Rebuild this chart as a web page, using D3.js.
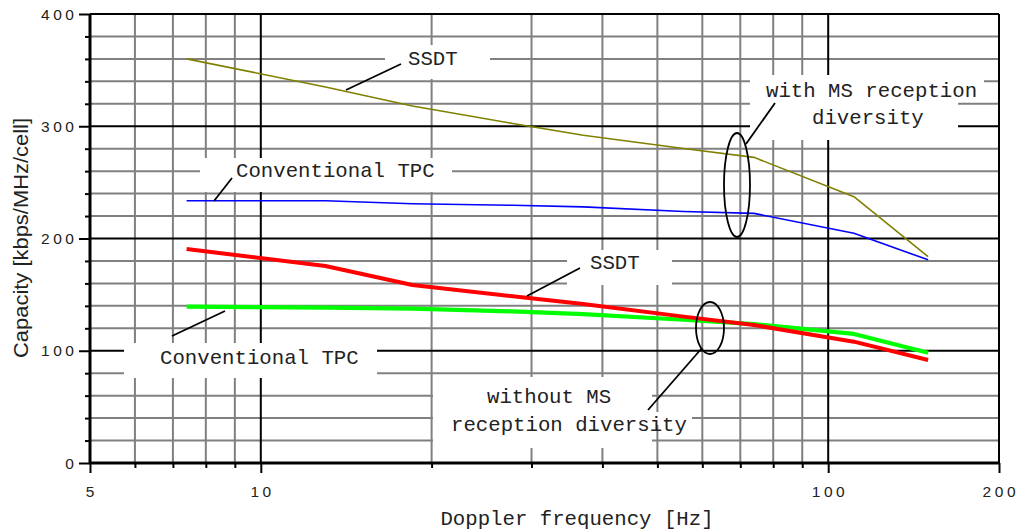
<!DOCTYPE html>
<html>
<head>
<meta charset="utf-8">
<script src="https://cdn.jsdelivr.net/npm/d3@7/dist/d3.min.js"></script>
<style>
  html, body { margin: 0; padding: 0; background: #fff; }
  svg { display: block; }
</style>
</head>
<body>
<svg id="chart" width="1020" height="531"></svg>
<script>
// Doppler frequencies of the simulated points (Hz)
const dopplerHz = [7.4, 13, 18.5, 27.8, 37, 55.6, 74, 111, 150];

// Capacity in kbps/MHz/cell
const ssdtWithDiversity = [360, 335, 318, 302.5, 292, 280.2, 272.3, 237.3, 183.8];
const tpcWithDiversity  = [233.6, 233.6, 231, 229.6, 228.2, 224, 222.4, 204.6, 181];
const ssdtNoDiversity   = [190.6, 175.5, 158.6, 148.6, 141.6, 130.4, 122.9, 108.1, 91.8];
const tpcNoDiversity    = [139.3, 138.5, 137.5, 135, 132.6, 127.6, 123.8, 115, 98.2];

// Axis ticks and grid
const xTickValues = [5, 10, 100, 200];
const xMinorValues = [6, 7, 8, 9, 20, 30, 40, 50, 60, 70, 80, 90];
const yTickValues = [0, 100, 200, 300, 400];
const yMinorValues = [20, 40, 60, 80, 120, 140, 160, 180, 220, 240, 260, 280, 320, 340, 360, 380];

const xTitle = "Doppler frequency [Hz]";
const yTitle = "Capacity [kbps/MHz/cell]";

const series = [
  { values: ssdtWithDiversity, color: "#808000", width: 1.6 },
  { values: tpcWithDiversity,  color: "#0000ff", width: 1.6 },
  { values: tpcNoDiversity,    color: "#00ff00", width: 4.2 },
  { values: ssdtNoDiversity,   color: "#ff0000", width: 4 }
];

const svg = d3.select("#chart");
const x = d3.scaleLog().domain([5, 200]).range([90, 999]);
const y = d3.scaleLinear().domain([0, 400]).range([463, 14]);

const mono = "'Liberation Mono', 'Courier New', monospace";
const sans = "'Liberation Sans', Arial, sans-serif";

// ---- grid ----
const grid = svg.append("g");
grid.selectAll("line.vminor").data(xMinorValues).join("line")
  .attr("x1", d => x(d)).attr("x2", d => x(d))
  .attr("y1", y(0)).attr("y2", y(400))
  .attr("stroke", "#808080").attr("stroke-width", 2);
grid.selectAll("line.hminor").data(yMinorValues).join("line")
  .attr("x1", x(5)).attr("x2", x(200))
  .attr("y1", d => y(d)).attr("y2", d => y(d))
  .attr("stroke", "#808080").attr("stroke-width", 2);
grid.selectAll("line.vmajor").data([10, 100]).join("line")
  .attr("x1", d => x(d)).attr("x2", d => x(d))
  .attr("y1", y(0)).attr("y2", y(400))
  .attr("stroke", "#000").attr("stroke-width", 2);
grid.selectAll("line.hmajor").data([100, 200, 300]).join("line")
  .attr("x1", x(5)).attr("x2", x(200))
  .attr("y1", d => y(d)).attr("y2", d => y(d))
  .attr("stroke", "#000").attr("stroke-width", 2);

// ---- white panels behind the callout texts ----
const panels = [
  [385, 45, 490, 79],
  [200, 158, 452, 192],
  [750, 75, 958, 140],
  [750, 75, 984, 100],
  [567, 250, 672, 285],
  [124, 343, 377, 378],
  [433, 377, 652, 448],
  [652, 412, 692, 425]
];
svg.append("g").selectAll("rect").data(panels).join("rect")
  .attr("x", d => d[0]).attr("y", d => d[1])
  .attr("width", d => d[2] - d[0]).attr("height", d => d[3] - d[1])
  .attr("fill", "#fff");

// ---- frame ----
const frame = svg.append("g").attr("stroke", "#000");
frame.append("line").attr("x1", x(5)).attr("x2", x(200)).attr("y1", y(400)).attr("y2", y(400)).attr("stroke-width", 2);
frame.append("line").attr("x1", x(200)).attr("x2", x(200)).attr("y1", y(0)).attr("y2", y(400)).attr("stroke-width", 2);

// ---- axes ----
const yMinorAxis = d3.axisLeft(y).tickValues(yMinorValues).tickSize(5).tickFormat("");
const yMajorAxis = d3.axisLeft(y).tickValues(yTickValues).tickSize(11).tickFormat("");
const xMinorAxis = d3.axisBottom(x).tickValues(xMinorValues).tickSize(5).tickFormat("");
const xMajorAxis = d3.axisBottom(x).tickValues(xTickValues).tickSize(10).tickFormat("");

[[yMinorAxis, `translate(${x(5)},0)`], [yMajorAxis, `translate(${x(5)},0)`],
 [xMinorAxis, `translate(0,${y(0)})`], [xMajorAxis, `translate(0,${y(0)})`]].forEach(([ax, tr]) => {
  const g = svg.append("g").attr("transform", tr).call(ax);
  g.select(".domain").remove();
  g.selectAll(".tick line").attr("stroke", "#000").attr("stroke-width", 2);
});

frame.append("line").attr("x1", x(5)).attr("x2", x(5)).attr("y1", y(0) + 1).attr("y2", y(400)).attr("stroke-width", 3);
frame.append("line").attr("x1", x(5) - 1).attr("x2", x(200)).attr("y1", y(0)).attr("y2", y(0)).attr("stroke-width", 3);

// tick labels
const tickLS = 3.6;
svg.append("g").selectAll("text").data(yTickValues).join("text")
  .attr("x", 74 + tickLS).attr("y", d => y(d)).attr("dy", "0.36em")
  .attr("text-anchor", "end")
  .style("font-family", sans).style("font-size", "15.5px").style("letter-spacing", tickLS + "px")
  .attr("fill", "#222").text(d => d);
svg.append("g").selectAll("text").data(xTickValues).join("text")
  .attr("x", d => x(d) + tickLS / 2).attr("y", 497)
  .attr("text-anchor", "middle")
  .style("font-family", sans).style("font-size", "15.5px").style("letter-spacing", tickLS + "px")
  .attr("fill", "#222").text(d => d);

// axis titles
svg.append("text")
  .attr("x", 577).attr("y", 525).attr("text-anchor", "middle")
  .style("font-family", mono).style("font-size", "20.7px")
  .attr("fill", "#222").text(xTitle);
svg.append("text")
  .attr("transform", "translate(28,238) rotate(-90)")
  .attr("text-anchor", "middle")
  .attr("textLength", 240).attr("lengthAdjust", "spacingAndGlyphs")
  .style("font-family", sans).style("font-size", "21px")
  .attr("fill", "#222").text(yTitle);

// ---- data lines ----
const line = d3.line().x(d => x(d[0])).y(d => y(d[1]));
svg.append("g").selectAll("path").data(series).join("path")
  .attr("d", s => line(dopplerHz.map((f, i) => [f, s.values[i]])))
  .attr("fill", "none")
  .attr("stroke", s => s.color)
  .attr("stroke-width", s => s.width)
  .attr("stroke-linejoin", "round")
  .attr("stroke-linecap", "butt");

// ---- callouts ----
const callout = svg.append("g").attr("stroke", "#000").attr("fill", "none").attr("stroke-width", 1.8);
callout.append("ellipse").attr("cx", 737).attr("cy", 185).attr("rx", 13).attr("ry", 52);
callout.append("ellipse").attr("cx", 710).attr("cy", 328).attr("rx", 14).attr("ry", 26);

const leaders = [
  [401, 64, 346, 90],
  [232, 178, 214, 201],
  [775, 103, 746, 144],
  [580, 268, 527, 296],
  [225, 311, 172, 336],
  [702, 348, 648, 410]
];
callout.selectAll("line").data(leaders).join("line")
  .attr("x1", d => d[0]).attr("y1", d => d[1])
  .attr("x2", d => d[2]).attr("y2", d => d[3]);

const labels = [
  ["SSDT", 408, 65],
  ["Conventional TPC", 236, 177],
  ["with MS reception", 766, 97],
  ["diversity", 812, 124],
  ["SSDT", 590, 269],
  ["Conventional TPC", 160, 364],
  ["without MS", 487, 403],
  ["reception diversity", 451, 431]
];
svg.append("g").selectAll("text").data(labels).join("text")
  .attr("x", d => d[1]).attr("y", d => d[2])
  .style("font-family", mono).style("font-size", "20.7px")
  .attr("fill", "#222").text(d => d[0]);
</script>
</body>
</html>
